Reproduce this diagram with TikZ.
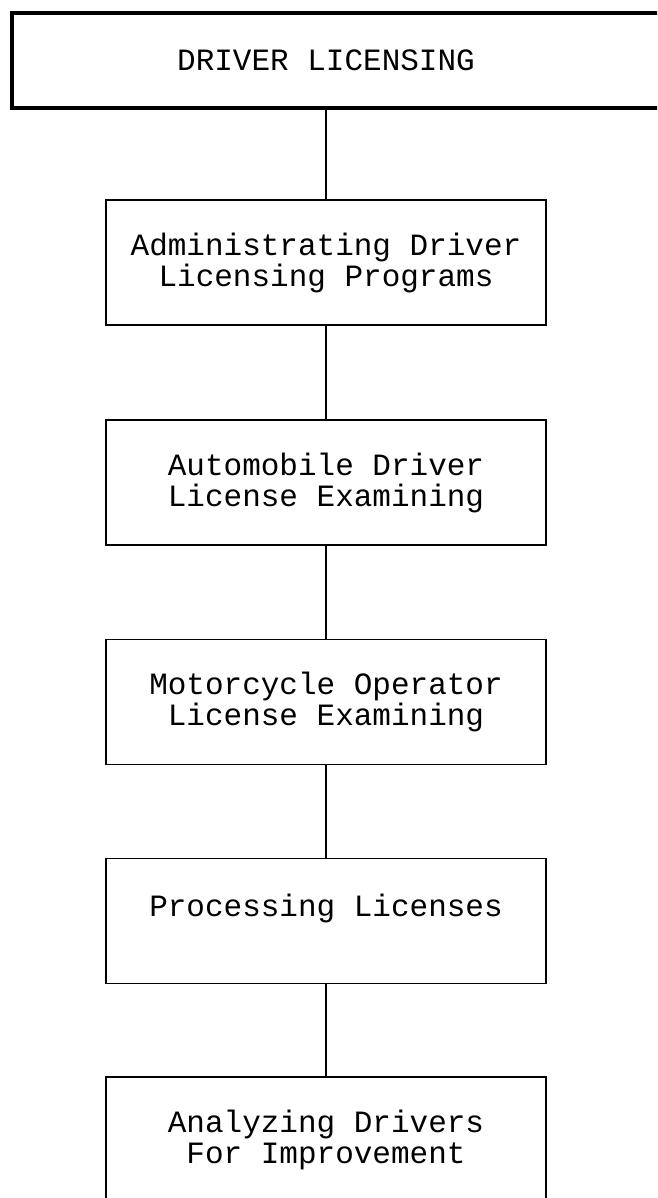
\documentclass[tikz,border=0pt]{standalone}
\usepackage{fontspec}
\newfontfamily\typewriter{Liberation Mono}

\tikzset{
  unitbox/.style={draw, line width=1.6pt, minimum width=440pt, minimum height=125pt,
    inner sep=0pt, align=center, font=\typewriter\fontsize{31}{31}\selectfont},
  headbox/.style={draw, line width=4pt, minimum width=690pt, minimum height=95pt, inner sep=0pt},
  headtext/.style={font=\typewriter\fontsize{31}{31}\selectfont},
  link/.style={line width=1.4pt},
}

\begin{document}
\begin{tikzpicture}[x=1pt,y=-1pt]
  \useasboundingbox (0,0) rectangle (657,1198);
  \clip (0,0) rectangle (657,1198);

  % head box runs off the right edge
  \node[headbox] (head) at (357,60.5) {};
  \node[headtext] (headlabel) at (326,60.5) {DRIVER LICENSING};

  \node[unitbox] (admin) at (326,262.5) {Administrating Driver\\Licensing Programs};
  \node[unitbox] (auto) at (326,482.5) {Automobile Driver\\License Examining};
  \node[unitbox] (moto) at (326,702) {Motorcycle Operator\\License Examining};
  \node[unitbox] (process) at (326,921) {Processing Licenses\\~};
  \node[unitbox] (analyze) at (326,1139.5) {Analyzing Drivers\\For Improvement};

  \draw[link] (head.south -| admin.north) -- (admin.north);
  \draw[link] (admin.south) -- (auto.north);
  \draw[link] (auto.south) -- (moto.north);
  \draw[link] (moto.south) -- (process.north);
  \draw[link] (process.south) -- (analyze.north);
\end{tikzpicture}
\end{document}
